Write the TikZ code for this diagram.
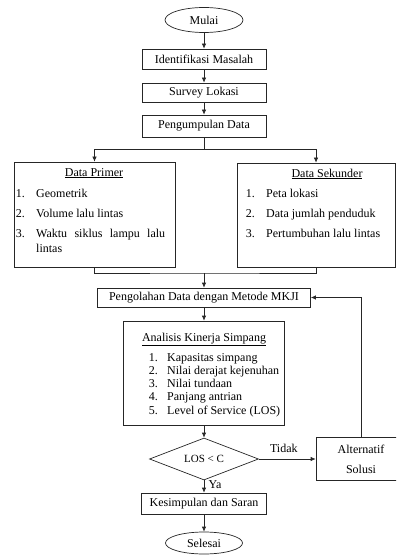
\documentclass[tikz,border=0pt]{standalone}
\usepackage{fontspec}
\setmainfont{Liberation Serif}
\usetikzlibrary{shapes.geometric, arrows.meta, positioning}

\begin{document}
\begin{tikzpicture}[x=1pt, y=-1pt, >={Latex[length=5pt,width=4.5pt]},
        font=\fontsize{12}{14}\selectfont,
        kotak/.style={draw=black!85, line width=0.7pt, rectangle, inner sep=0pt},
        elips/.style={draw=black!85, line width=0.7pt, ellipse, inner sep=0pt},
        belah/.style={draw=black!85, line width=0.7pt, diamond, aspect=2.5, inner sep=0pt},
        garis/.style={draw=black!85, line width=0.7pt},
        judul/.style={anchor=base, inner sep=0pt},
        nomor/.style={anchor=base east, inner sep=0pt},
        teks/.style={anchor=base west, inner sep=0pt}]
        \useasboundingbox (0,0) rectangle (396,556);
        \clip (0,0) rectangle (396,556);

        % Mulai dan tahap awal
        \node[elips, minimum width=78pt, minimum height=25pt] (mulai) at (204,20) {Mulai};
        \node[kotak, minimum width=124pt, minimum height=20pt] (identifikasi) at (204,59) {Identifikasi Masalah};
        \node[kotak, minimum width=124pt, minimum height=19pt] (survey) at (204,92.5) {Survey Lokasi};
        \node[kotak, minimum width=124pt, minimum height=22pt] (kumpul) at (204,126) {Pengumpulan Data};

        \draw[garis, ->] (mulai) -- (identifikasi);
        \draw[garis, ->] (identifikasi) -- (survey);
        \draw[garis, ->] (survey) -- (kumpul);

        % Data primer
        \node[kotak, minimum width=161pt, minimum height=105pt] (primer) at (94.5,214.5) {};
        \node[judul] (judulprimer) at (94,176) {\underline{Data Primer}};
        \node[nomor] (p1n) at (25,197) {1.};
        \node[teks] (p1) at (36,197) {Geometrik};
        \node[nomor] (p2n) at (25,217) {2.};
        \node[teks] (p2) at (36,217) {Volume lalu lintas};
        \node[nomor] (p3n) at (25,237) {3.};
        \node[teks] (p3) at (36,237) {\makebox[129pt][s]{Waktu siklus lampu lalu}};
        \node[teks] (p3b) at (36,252) {lintas};

        % Data sekunder
        \node[kotak, minimum width=158pt, minimum height=104pt] (sekunder) at (316,215) {};
        \node[judul] (judulsekunder) at (327,177) {\underline{Data Sekunder}};
        \node[nomor] (s1n) at (255,197) {1.};
        \node[teks] (s1) at (266,197) {Peta lokasi};
        \node[nomor] (s2n) at (255,217) {2.};
        \node[teks] (s2) at (266,217) {Data jumlah penduduk};
        \node[nomor] (s3n) at (255,237) {3.};
        \node[teks] (s3) at (266,237) {Pertumbuhan lalu lintas};

        % Cabang dan gabungan
        \coordinate (cabang) at (204,149);
        \coordinate (gabung) at (204,273);
        \draw[garis] (kumpul) -- (cabang);
        \draw[garis, ->] (cabang) -| (primer.north);
        \draw[garis, ->] (cabang) -| (sekunder.north);
        \draw[garis] (primer.south) |- (gabung) -| (sekunder.south);

        % Pengolahan dan analisis
        \node[kotak, minimum width=213pt, minimum height=19pt] (olah) at (204,297.5) {Pengolahan Data dengan Metode MKJI};
        \draw[garis, ->] (gabung) -- (olah);

        \node[kotak, minimum width=161pt, minimum height=104pt] (analisis) at (204,373) {};
        \node[judul] (judulanalisis) at (204,341) {\underline{Analisis Kinerja Simpang}};
        \node[nomor] (a1n) at (158,361) {1.};
        \node[teks] (a1) at (167,361) {Kapasitas simpang};
        \node[nomor] (a2n) at (158,374) {2.};
        \node[teks] (a2) at (167,374) {Nilai derajat kejenuhan};
        \node[nomor] (a3n) at (158,387) {3.};
        \node[teks] (a3) at (167,387) {Nilai tundaan};
        \node[nomor] (a4n) at (158,400) {4.};
        \node[teks] (a4) at (167,400) {Panjang antrian};
        \node[nomor] (a5n) at (158,414) {5.};
        \node[teks] (a5) at (167,414) {Level of Service (LOS)};
        \draw[garis, ->] (olah) -- (analisis);

        % Keputusan
        \node[belah, minimum width=109pt, minimum height=42pt, font=\fontsize{11}{13}\selectfont] (cek) at (204,459) {LOS < C};
        \node[kotak, minimum width=90pt, minimum height=43pt, align=center] (alternatif) at (361,459) {Alternatif\\[6pt]Solusi};
        \draw[garis, ->] (analisis) -- (cek);
        \draw[garis, ->] (cek) -- node[pos=0.44, above=3pt] (tidak) {Tidak} (alternatif);
        \draw[garis, ->] (alternatif.north) |- (olah.east);

        % Akhir
        \node[kotak, minimum width=125pt, minimum height=21pt] (simpulan) at (204,503.5) {Kesimpulan dan Saran};
        \node[elips, minimum width=77pt, minimum height=22pt] (selesai) at (204,543) {Selesai};
        \draw[garis, ->] (cek) -- node[pos=0.35, right=1pt] (ya) {Ya} (simpulan);
        \draw[garis, ->] (simpulan) -- (selesai);
    \end{tikzpicture}
\end{document}
